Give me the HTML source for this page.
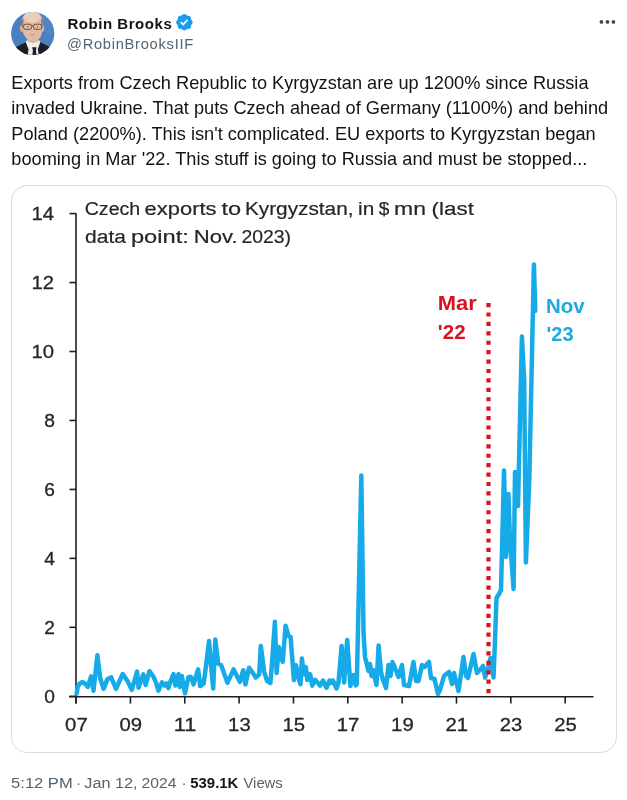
<!DOCTYPE html>
<html><head><meta charset="utf-8">
<style>
html,body{margin:0;padding:0;background:#fff;}
body{width:627px;height:800px;position:relative;overflow:hidden;font-family:"Liberation Sans",Arial,sans-serif;color:#0f1419;}
.abs{position:absolute;white-space:nowrap;}
#name{left:67.4px;top:15.6px;font-size:15px;font-weight:bold;line-height:1;letter-spacing:0.55px;}
#handle{left:67px;top:37.2px;font-size:14.7px;line-height:1;color:#536471;letter-spacing:0.72px;}
#text{left:11.3px;top:70.9px;font-size:18.2px;line-height:25.5px;}
#card{left:11px;top:185px;width:604px;height:566px;border:1px solid #d5dde1;border-radius:16px;}
#meta{left:11px;top:774.8px;font-size:15.65px;line-height:1;color:#536471;}
#meta b{color:#0f1419;}
svg{position:absolute;left:0;top:0;}
</style></head>
<body>
<svg width="627" height="800" viewBox="0 0 627 800">
  <defs><filter id="soft" x="-5%" y="-5%" width="110%" height="110%"><feGaussianBlur stdDeviation="0.35"/></filter><clipPath id="av"><circle cx="32.7" cy="33.5" r="21.6"/></clipPath></defs>
  <g clip-path="url(#av)">
    <rect x="10" y="11" width="46" height="46" fill="#4a7fc0"/>
    <ellipse cx="50" cy="22" rx="9" ry="12" fill="#5288c7" opacity="0.6"/>
    <path d="M10 57 L10 51 L15 47.5 L23 43.5 L28 41.5 L38 41.5 L43 43.5 L50 47 L56 51 L56 57 Z" fill="#1d1e25"/>
    <path d="M25.5 41.5 L28 39.8 L37.8 39.8 L40.5 41.5 L39.4 57 L27 57 Z" fill="#f0eeec"/>
    <path d="M25.5 41.5 L28.6 49.5 L27.2 57 L21 57 Z" fill="#1d1e25"/>
    <path d="M40.5 41.5 L37.8 49.5 L39.3 57 L45 57 Z" fill="#1d1e25"/>
    <path d="M32.1 47.3 L36.5 47.3 L35.9 50.2 L36.7 56 L32.3 56 L32.9 50.2 Z" fill="#1a1d2b"/>
    <path d="M27 36 L38.5 36 L38.2 41.3 L33 43.2 L27.4 41.3 Z" fill="#ddb29a"/>
    <ellipse cx="21.4" cy="28.6" rx="1.5" ry="3.4" fill="#d9ab92"/>
    <ellipse cx="42.8" cy="28.6" rx="1.4" ry="3.4" fill="#d9ab92"/>
    <path d="M21.8 24 Q21.4 12.2 32.2 11.7 Q43.2 12.2 42.7 24 L42.3 31 Q41.5 38 37.2 40 Q33.5 41.2 29.6 40.2 Q24.8 38.3 22.6 31.5 Z" fill="#e3bba2"/>
    <ellipse cx="32" cy="17" rx="8.3" ry="5.2" fill="#ebcfbe"/>
    <path d="M22 19.5 Q21.8 24 22.3 27.5 L23.5 27.5 Q23.1 23 23.6 19 Z" fill="#8f7868"/>
    <path d="M42.5 19.5 Q42.7 24 42.2 27.5 L41 27.5 Q41.4 23 40.9 19 Z" fill="#8f7868"/>
    <g fill="none" stroke="#6a4a3c" stroke-width="0.95">
      <rect x="23.4" y="24.2" width="8.3" height="5.2" rx="2.5"/>
      <rect x="33.4" y="24.2" width="8.5" height="5.2" rx="2.5"/>
      <path d="M31.7 25.8 L33.4 25.8"/>
    </g>
    <circle cx="27.8" cy="27" r="0.65" fill="#6a4a40"/>
    <circle cx="37.6" cy="27" r="0.65" fill="#6a4a40"/>
    <path d="M29.6 34.6 Q32.4 35.6 35.4 34.6" stroke="#c08775" stroke-width="0.75" fill="none"/>
  </g>
  <!-- verified badge -->
  <g transform="translate(174.74 12.64) scale(0.878)"><path fill="#1d9bf0" fill-rule="evenodd" d="M20.396 11c-.018-.646-.215-1.275-.57-1.816-.354-.54-.852-.972-1.438-1.246.223-.607.27-1.264.14-1.897-.131-.634-.437-1.218-.882-1.687-.47-.445-1.053-.75-1.687-.882-.633-.13-1.29-.083-1.897.14-.273-.587-.704-1.086-1.245-1.44S11.647 1.62 11 1.604c-.646.017-1.273.213-1.813.568s-.969.854-1.24 1.44c-.608-.223-1.267-.272-1.902-.14-.635.13-1.22.436-1.69.882-.445.47-.749 1.055-.878 1.688-.13.633-.08 1.29.144 1.896-.587.274-1.087.705-1.443 1.245-.356.54-.555 1.17-.574 1.817.02.647.218 1.276.574 1.817.356.54.856.972 1.443 1.245-.224.606-.274 1.263-.144 1.896.13.634.433 1.218.877 1.688.47.443 1.054.747 1.687.878.633.132 1.29.084 1.897-.136.274.586.705 1.084 1.246 1.439.54.354 1.17.551 1.816.569.647-.016 1.276-.213 1.817-.567s.972-.854 1.245-1.44c.604.239 1.266.296 1.903.164.636-.132 1.220-.447 1.680-.907.46-.46.776-1.044.908-1.681s.075-1.299-.165-1.903c.586-.274 1.084-.705 1.439-1.246.354-.54.551-1.17.569-1.816zM9.662 14.85l-3.429-3.428 1.293-1.302 2.072 2.072 4.4-4.794 1.347 1.246z"/></g>
  <!-- more dots -->
  <g fill="#42494e"><circle cx="601.4" cy="21.9" r="1.85"/><circle cx="607.5" cy="21.9" r="1.85"/><circle cx="613.4" cy="21.9" r="1.85"/></g>

  <!-- chart -->
  <g font-family="Liberation Sans, Arial, sans-serif" fill="#262626">
    <g font-size="18.8" stroke="#262626" stroke-width="0.2">
      <text x="84.70" y="215.2" textLength="55.60" lengthAdjust="spacingAndGlyphs">Czech</text>
      <text x="144.60" y="215.2" textLength="71.90" lengthAdjust="spacingAndGlyphs">exports</text>
      <text x="221.40" y="215.2" textLength="19.70" lengthAdjust="spacingAndGlyphs">to</text>
      <text x="244.90" y="215.2" textLength="108.60" lengthAdjust="spacingAndGlyphs">Kyrgyzstan,</text>
      <text x="358.10" y="215.2" textLength="16.20" lengthAdjust="spacingAndGlyphs">in</text>
      <text x="378.80" y="215.2" textLength="10.60" lengthAdjust="spacingAndGlyphs">$</text>
      <text x="394.00" y="215.2" textLength="31.90" lengthAdjust="spacingAndGlyphs">mn</text>
      <text x="431.60" y="215.2" textLength="42.30" lengthAdjust="spacingAndGlyphs">(last</text>
      <text x="85.10" y="242.8" textLength="40.90" lengthAdjust="spacingAndGlyphs">data</text>
      <text x="130.90" y="242.8" textLength="57.90" lengthAdjust="spacingAndGlyphs">point:</text>
      <text x="193.80" y="242.8" textLength="43.80" lengthAdjust="spacingAndGlyphs">Nov.</text>
      <text x="241.40" y="242.8" textLength="49.50" lengthAdjust="spacingAndGlyphs">2023)</text>
    </g>
    <g font-size="19.2" text-anchor="end" stroke="#262626" stroke-width="0.3">
      <text x="54.0" y="220.20" textLength="22.6" lengthAdjust="spacingAndGlyphs">14</text>
      <text x="54.0" y="288.95" textLength="22.6" lengthAdjust="spacingAndGlyphs">12</text>
      <text x="54.0" y="357.75" textLength="22.6" lengthAdjust="spacingAndGlyphs">10</text>
      <text x="54.9" y="427.35">8</text>
      <text x="54.9" y="495.55">6</text>
      <text x="54.9" y="564.85">4</text>
      <text x="54.9" y="633.95">2</text>
      <text x="54.9" y="702.75">0</text>
    </g>
    <g font-size="19.2" text-anchor="middle" stroke="#262626" stroke-width="0.3">
      <text x="76.40" y="731.3" textLength="22.6" lengthAdjust="spacingAndGlyphs">07</text>
      <text x="130.74" y="731.3" textLength="22.6" lengthAdjust="spacingAndGlyphs">09</text>
      <text x="185.08" y="731.3" textLength="22.6" lengthAdjust="spacingAndGlyphs">11</text>
      <text x="239.42" y="731.3" textLength="22.6" lengthAdjust="spacingAndGlyphs">13</text>
      <text x="293.76" y="731.3" textLength="22.6" lengthAdjust="spacingAndGlyphs">15</text>
      <text x="348.10" y="731.3" textLength="22.6" lengthAdjust="spacingAndGlyphs">17</text>
      <text x="402.44" y="731.3" textLength="22.6" lengthAdjust="spacingAndGlyphs">19</text>
      <text x="456.78" y="731.3" textLength="22.6" lengthAdjust="spacingAndGlyphs">21</text>
      <text x="511.12" y="731.3" textLength="22.6" lengthAdjust="spacingAndGlyphs">23</text>
      <text x="565.46" y="731.3" textLength="22.6" lengthAdjust="spacingAndGlyphs">25</text>
    </g>
  </g>
  <g stroke="#1f1f1f" stroke-width="1.6" fill="none">
    <line x1="76" y1="213.2" x2="76" y2="703.6"/>
    <line x1="69" y1="696.7" x2="593.5" y2="696.7"/>
    <line x1="69.5" y1="696.30" x2="76" y2="696.30"/><line x1="69.5" y1="627.34" x2="76" y2="627.34"/><line x1="69.5" y1="558.38" x2="76" y2="558.38"/><line x1="69.5" y1="489.42" x2="76" y2="489.42"/><line x1="69.5" y1="420.46" x2="76" y2="420.46"/><line x1="69.5" y1="351.50" x2="76" y2="351.50"/><line x1="69.5" y1="282.54" x2="76" y2="282.54"/><line x1="69.5" y1="213.58" x2="76" y2="213.58"/>
    <line x1="76.10" y1="696.7" x2="76.10" y2="703.6"/><line x1="130.44" y1="696.7" x2="130.44" y2="703.6"/><line x1="184.78" y1="696.7" x2="184.78" y2="703.6"/><line x1="239.12" y1="696.7" x2="239.12" y2="703.6"/><line x1="293.46" y1="696.7" x2="293.46" y2="703.6"/><line x1="347.80" y1="696.7" x2="347.80" y2="703.6"/><line x1="402.14" y1="696.7" x2="402.14" y2="703.6"/><line x1="456.48" y1="696.7" x2="456.48" y2="703.6"/><line x1="510.82" y1="696.7" x2="510.82" y2="703.6"/><line x1="565.16" y1="696.7" x2="565.16" y2="703.6"/>
  </g>
  <path d="M76.6 693.6 L77.7 686.9 L79.7 683.5 L82.5 682.1 L85.4 684 L87.8 686.9 L91.1 676.4 L93.5 690.7 L97.4 655.3 L100.2 678.3 L103.6 688.8 L107.4 679.2 L111.2 677.3 L116 688.8 L122.7 674 L127.5 681.1 L131.8 689.8 L137.1 671.6 L138.5 687.8 L143.3 674.4 L145.7 685 L149.4 671.2 L153.1 676 L155.7 681.8 L158.5 690.7 L162 682.4 L164.6 685.6 L166.5 683.5 L168.4 688.2 L170.3 681.8 L173.5 674.1 L175.4 685.6 L178.6 674.1 L179.9 686.9 L181.8 676 L185 693.3 L188.5 676.9 L191 676.9 L193.5 684.4 L198.1 669.4 L200.2 686.1 L203.6 683.6 L206.1 665.2 L209 640.9 L211.1 666 L213.2 688.6 L215.3 639.6 L218.2 663.5 L221.2 665.2 L227.4 682.8 L233.6 669.4 L239.9 681.9 L243.3 670.2 L245.4 684.4 L249.1 667.7 L253.3 673.6 L255.8 677.7 L259.2 674.4 L260.8 645.9 L264.1 671.6 L267 680.9 L270.4 683.1 L272.6 655 L274.9 621.8 L276.6 673 L278.8 647.1 L281 657.2 L282.7 661.7 L285.6 625.7 L288.4 635.9 L290.6 637 L293.9 680.1 L296 665.2 L298.5 678 L300.5 684.2 L301.9 658.5 L303.7 674.2 L305.8 667.1 L307.3 680 L310.1 674.2 L312.3 685.6 L315.1 679.9 L318 683 L320.1 685.6 L323 680.5 L326.5 687.8 L329.4 680.5 L331 683 L332.9 680.5 L336.5 688.5 L338.5 682.5 L341.6 646 L344.1 682.5 L347.2 640 L350.4 686 L353.5 675 L355.8 685.5 L356.8 684 L361.3 475.5 L363.5 632 L365 657 L366.5 663 L368.5 671 L370 664 L371.5 676 L373 670 L376.5 685 L378.6 645.5 L381 672 L383 680 L386 688 L388.5 665 L390.5 676 L392.5 662 L395 668 L398.5 677 L402 665 L404 685 L409 686 L413.5 662 L416 681 L418.5 681 L422 665 L424.5 667 L429 662 L431 678 L434.5 679 L438 694 L440 690 L444 676 L449 672 L452 684 L454 673 L458.5 691 L463.5 657 L466 676 L468 678 L473.5 654 L477 673 L480 670 L483 666 L485.2 677.5 L488.2 667 L490.5 658 L493.5 677.5 L495 640 L496.5 598 L499 594 L501 590 L504 470.6 L506 557 L508.4 494 L510 540 L513.6 589 L515 472 L518 506 L521.9 336.5 L524.2 380 L525.9 562.5 L529.3 480 L533.9 264.6 L535.3 311" fill="none" stroke="#16abe8" stroke-width="4.5" filter="url(#soft)" stroke-linejoin="round" stroke-linecap="round"/>
  <line x1="488.5" y1="303" x2="488.5" y2="695" stroke="#d8121e" stroke-width="4.2" stroke-dasharray="4.2 5.215"/>
  <g font-family="Liberation Sans, Arial, sans-serif" font-weight="bold" font-size="19.4">
    <text x="437.8" y="309.6" fill="#d8121e" textLength="39" lengthAdjust="spacingAndGlyphs">Mar</text>
    <text x="437.8" y="338.6" fill="#d8121e" textLength="27.8" lengthAdjust="spacingAndGlyphs">'22</text>
    <text x="546" y="313.3" fill="#1ea8e0" textLength="38.6" lengthAdjust="spacingAndGlyphs">Nov</text>
    <text x="546.6" y="340.9" fill="#1ea8e0" textLength="27" lengthAdjust="spacingAndGlyphs">'23</text>
  </g>
  <g font-family="Liberation Sans, Arial, sans-serif" font-size="15.4" fill="#536471">
    <text x="11.1" y="788" textLength="61.6" lengthAdjust="spacingAndGlyphs">5:12 PM</text>
    <text x="75.9" y="788">·</text>
    <text x="84.3" y="788" textLength="53.2" lengthAdjust="spacingAndGlyphs">Jan 12,</text>
    <text x="141.6" y="788" textLength="35" lengthAdjust="spacingAndGlyphs">2024</text>
    <text x="181.4" y="788">·</text>
    <text x="190.3" y="788" font-weight="bold" fill="#0f1419" textLength="48" lengthAdjust="spacingAndGlyphs">539.1K</text>
    <text x="243.5" y="788" textLength="39.2" lengthAdjust="spacingAndGlyphs">Views</text>
  </g>
</svg>
<div class="abs" id="name">Robin Brooks</div>
<div class="abs" id="handle">@RobinBrooksIIF</div>
<div class="abs" id="text">Exports from Czech Republic to Kyrgyzstan are up 1200% since Russia<br>invaded Ukraine. That puts Czech ahead of Germany (1100%) and behind<br>Poland (2200%). This isn't complicated. EU exports to Kyrgyzstan began<br>booming in Mar '22. This stuff is going to Russia and must be stopped...</div>
<div class="abs" id="card"></div>
</body></html>
